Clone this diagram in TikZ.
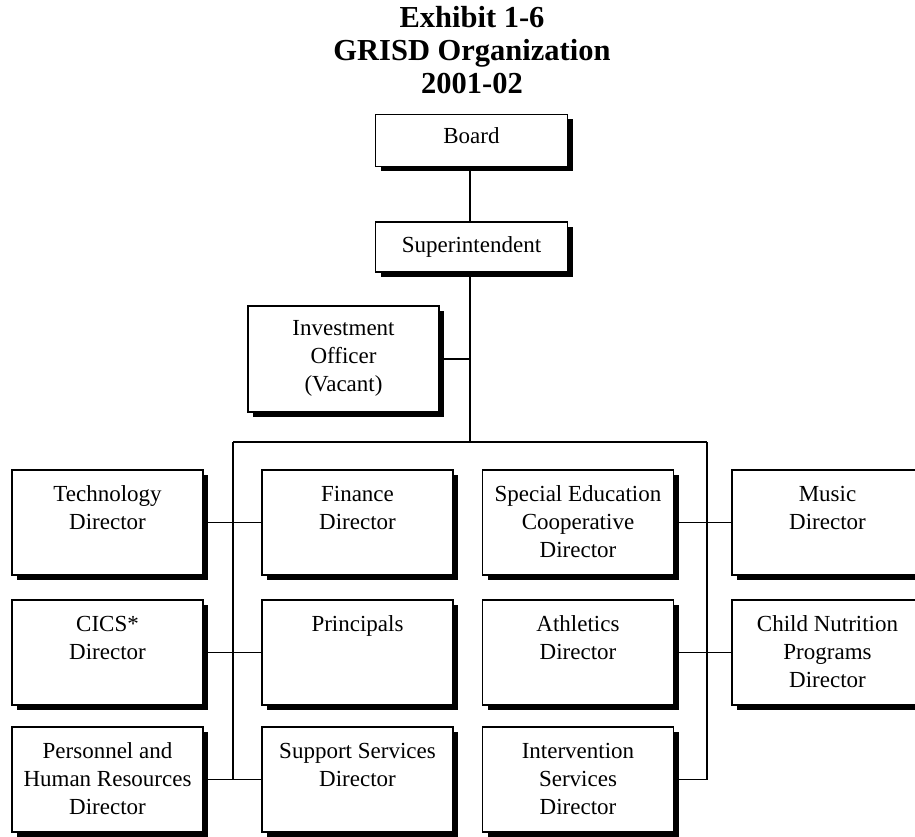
\documentclass[tikz,border=0pt]{standalone}
\usepackage{fontspec}
\setmainfont{Liberation Serif}
\usetikzlibrary{shadows}
\newcommand\mlines[1]{\begin{tabular}[t]{@{}c@{}}#1\end{tabular}}
\begin{document}
\begin{tikzpicture}[x=1pt,y=-1pt,
  orgbox/.style={draw=black, line width=1.8pt, fill=white, minimum width=191pt, minimum height=105pt, inner sep=0pt,
    drop shadow={shadow xshift=5pt, shadow yshift=-5pt, fill=black, opacity=1}},
  smallbox/.style={orgbox, minimum width=192pt, minimum height=52pt},
  txt/.style={inner sep=0pt, anchor=base, font=\fontsize{23}{28}\selectfont},
  link/.style={line width=1.6pt, draw=black}]
\useasboundingbox (0,0) rectangle (915,837);
\clip (0,0) rectangle (915,837);
\fill[white] (0,0) rectangle (915,837);

% title
\node[inner sep=0pt, anchor=base, font=\fontsize{30.5}{33}\selectfont\bfseries] (title) at (472,28)
  {\mlines{Exhibit 1-6\\GRISD Organization\\2001-02}};

% top boxes
\node[smallbox] (board) at (471.5,140.5) {};
\node[smallbox, minimum height=50pt] (sup) at (471.5,247) {};
\node[orgbox, minimum height=106pt] (inv) at (343.5,359) {};

% rows
\node[orgbox] (tech) at (107.5,522.5) {};
\node[orgbox] (fin) at (357.5,522.5) {};
\node[orgbox] (spec) at (578,522.5) {};
\node[orgbox] (music) at (827.5,522.5) {};
\node[orgbox] (cics) at (107.5,652.5) {};
\node[orgbox] (prin) at (357.5,652.5) {};
\node[orgbox] (ath) at (578,652.5) {};
\node[orgbox] (child) at (827.5,652.5) {};
\node[orgbox] (pers) at (107.5,779.5) {};
\node[orgbox] (supp) at (357.5,779.5) {};
\node[orgbox] (interv) at (578,779.5) {};

% texts
\node[txt] (boardT) at ([yshift=-30pt]board.north) {Board};
\node[txt] (supT) at ([yshift=-31pt]sup.north) {Superintendent};
\node[txt] (invT) at ([yshift=-30pt]inv.north) {\mlines{Investment\\Officer\\(Vacant)}};
\node[txt] (techT) at ([yshift=-32pt]tech.north) {\mlines{Technology\\Director}};
\node[txt] (finT) at ([yshift=-32pt]fin.north) {\mlines{Finance\\Director}};
\node[txt] (specT) at ([yshift=-32pt]spec.north) {\mlines{Special Education\\Cooperative\\Director}};
\node[txt] (musicT) at ([yshift=-32pt]music.north) {\mlines{Music\\Director}};
\node[txt] (cicsT) at ([yshift=-32pt]cics.north) {\mlines{CICS*\\Director}};
\node[txt] (prinT) at ([yshift=-32pt]prin.north) {Principals};
\node[txt] (athT) at ([yshift=-32pt]ath.north) {\mlines{Athletics\\Director}};
\node[txt] (childT) at ([yshift=-32pt]child.north) {\mlines{Child Nutrition\\Programs\\Director}};
\node[txt] (persT) at ([yshift=-32pt]pers.north) {\mlines{Personnel and\\Human Resources\\Director}};
\node[txt] (suppT) at ([yshift=-32pt]supp.north) {\mlines{Support Services\\Director}};
\node[txt] (intervT) at ([yshift=-32pt]interv.north) {\mlines{Intervention\\Services\\Director}};

% connectors
\coordinate (bartop) at (470,442);
\coordinate (barL) at (233,442);
\coordinate (barR) at (707,442);
\coordinate (invJ) at (470,359);
\coordinate (botL) at (233,779.5);
\coordinate (botR) at (707,779.5);

\draw[link] (board.south -| bartop) -- (sup.north -| bartop);
\draw[link] (sup.south -| bartop) -- (bartop);
\draw[link] (inv.east) -- (invJ);
\draw[link] (barL) -- (barR);
\draw[link] (barL) -- (botL);
\draw[link] (barR) -- (botR);
\draw[link] (tech.east) -- (fin.west);
\draw[link] (cics.east) -- (prin.west);
\draw[link] (pers.east) -- (supp.west);
\draw[link] (spec.east) -- (music.west);
\draw[link] (ath.east) -- (child.west);
\draw[link] (interv.east) -- (botR);
\end{tikzpicture}
\end{document}
